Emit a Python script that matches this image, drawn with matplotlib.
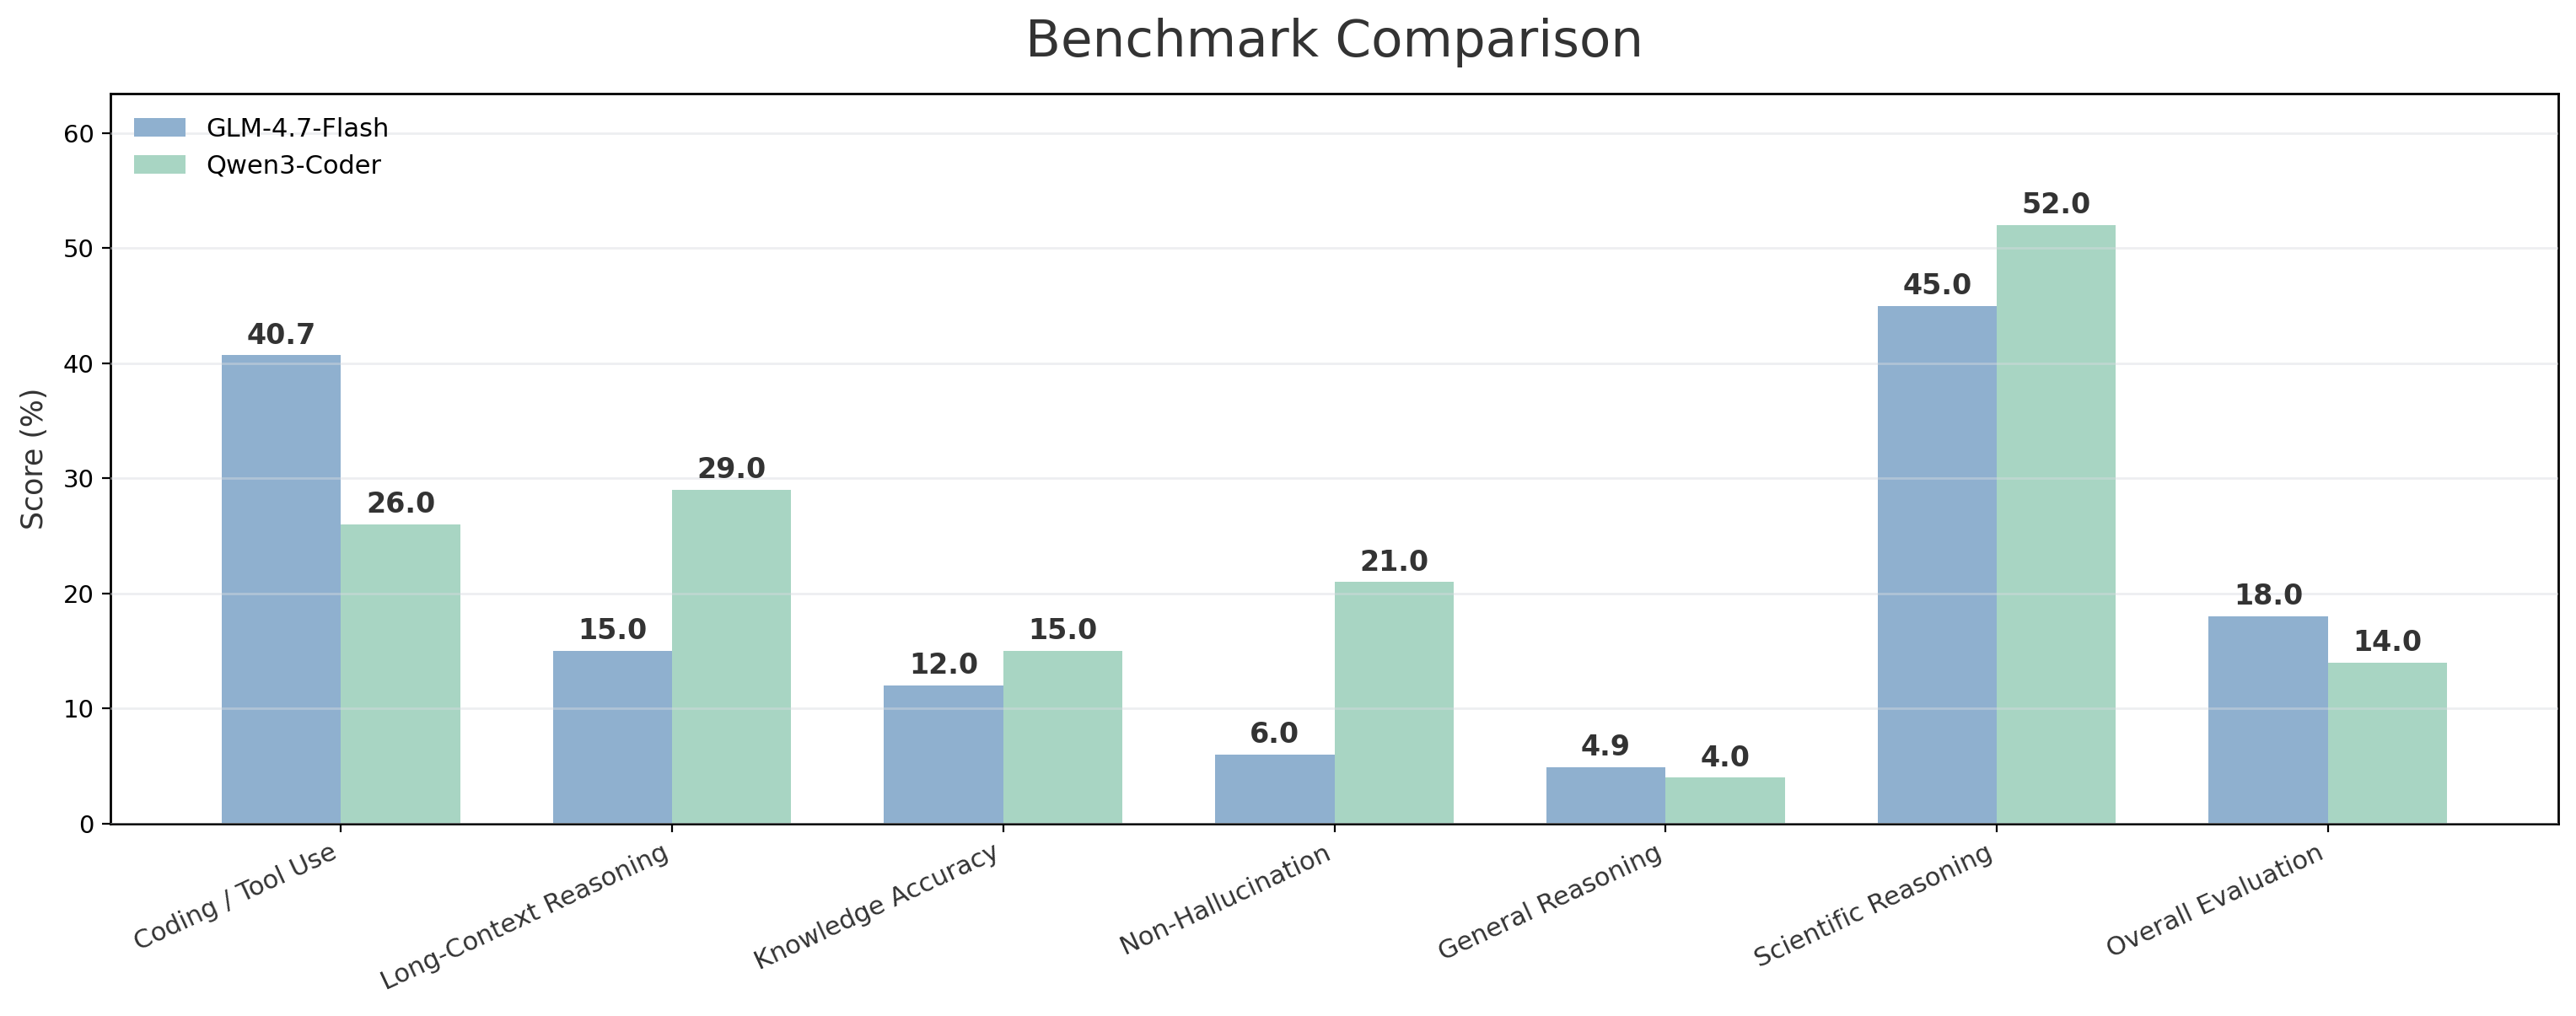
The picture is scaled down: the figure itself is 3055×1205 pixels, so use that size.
import matplotlib
matplotlib.use("Agg")
import matplotlib.pyplot as plt
import numpy as np

categories = ["Coding / Tool Use", "Long-Context Reasoning", "Knowledge Accuracy",
              "Non-Hallucination", "General Reasoning", "Scientific Reasoning",
              "Overall Evaluation"]
glm_scores = [40.7, 15.0, 12.0, 6.0, 4.9, 45.0, 18.0]
qwen_scores = [26.0, 29.0, 15.0, 21.0, 4.0, 52.0, 14.0]
series_names = ["GLM-4.7-Flash", "Qwen3-Coder"]

fig = plt.figure(figsize=(15.275, 6.025), dpi=200)
left, right, top, bottom = 131/3055, 3034/3055, 1 - 111/1205, 1 - 977/1205
ax = fig.add_axes([left, bottom, right - left, top - bottom])

x = np.arange(len(categories))
w = 0.36
ax.bar(x - w/2, glm_scores, w, color="#8FB0CF", label=series_names[0], zorder=1)
ax.bar(x + w/2, qwen_scores, w, color="#A8D5C3", label=series_names[1], zorder=1)

for xs, vals in ((x - w/2, glm_scores), (x + w/2, qwen_scores)):
    for xi, v in zip(xs, vals):
        ax.text(xi, v + 0.5, f"{v:.1f}", ha="center", va="bottom",
                fontsize=12, fontweight="bold", color="#333333", zorder=3)

ax.set_ylim(0, max(max(glm_scores), max(qwen_scores)) * 1.22)
ax.set_xticks(x)
ax.set_xticklabels(categories, rotation=25, ha="right", fontsize=11, color="#333333")
ax.tick_params(axis="y", labelsize=10.5)
ax.set_ylabel("Score (%)", fontsize=12.5, color="#333333", labelpad=6)
ax.grid(axis="y", color="#d8dbe0", alpha=0.45, linewidth=1, zorder=2)
ax.set_axisbelow(False)
for sp in ax.spines.values():
    sp.set_color("black")
    sp.set_linewidth(1.0)

ax.legend(loc="upper left", frameon=False, fontsize=11)
fig.text((left + right) / 2, 1 - 50/1205, "Benchmark Comparison", ha="center", va="center",
         fontsize=22, color="#333333")

fig.savefig("out.png", dpi=200)
